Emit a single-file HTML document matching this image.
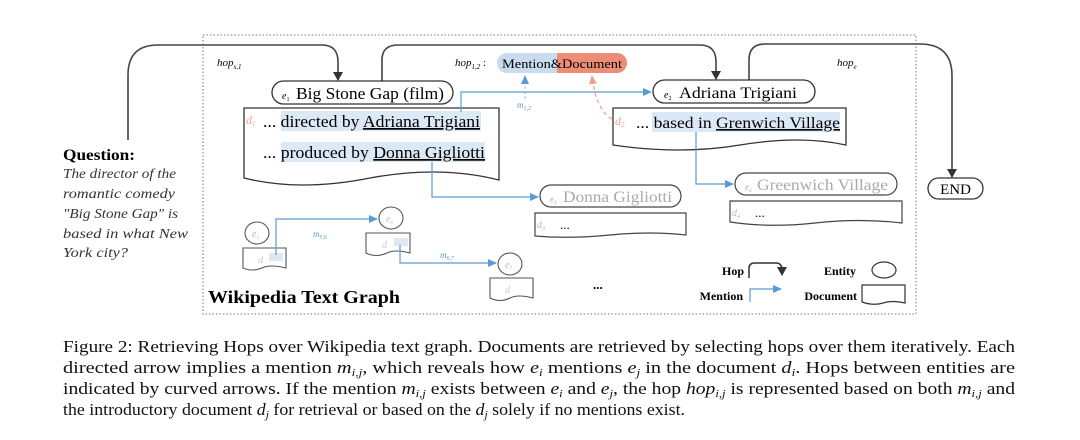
<!DOCTYPE html>
<html><head><meta charset="utf-8"><style>
html,body{margin:0;padding:0;background:#fff;}
svg{display:block;font-family:"Liberation Serif","Times New Roman",Times,serif;}
svg text{font-family:"Liberation Serif","Times New Roman",Times,serif;}
</style></head><body>
<svg width="1080" height="440" viewBox="0 0 1080 440" xmlns="http://www.w3.org/2000/svg" font-family="Liberation Serif, Times New Roman, serif">
<defs>
<marker id="ak" markerWidth="10" markerHeight="10" refX="8" refY="5" orient="auto" markerUnits="userSpaceOnUse"><path d="M0,0 L9,5 L0,10 Z" fill="#333"/></marker>
<marker id="ab" markerWidth="10" markerHeight="10" refX="8" refY="4" orient="auto" markerUnits="userSpaceOnUse"><path d="M0,0 L9,4 L0,8 Z" fill="#5b9bd5"/></marker>
<marker id="as" markerWidth="10" markerHeight="10" refX="8" refY="4" orient="auto" markerUnits="userSpaceOnUse"><path d="M0,0 L9,4 L0,8 Z" fill="#f0a08c"/></marker>
</defs>
<rect x="203" y="35" width="713" height="279" fill="none" stroke="#777" stroke-width="1" stroke-dasharray="1.5,2"/>

<path d="M128,140 L128,75 Q128,45 158,45 L322,45 Q338,45 338,62 L338,80" fill="none" stroke="#444" stroke-width="1.6" marker-end="url(#ak)"/>
<path d="M382,81 L382,60 Q382,45 398,45 L700,45 Q716,45 716,62 L716,79" fill="none" stroke="#444" stroke-width="1.6" marker-end="url(#ak)"/>
<path d="M749,80 L749,60 Q749,44 765,44 L920,44 Q952,44 952,76 L952,177" fill="none" stroke="#444" stroke-width="1.6" marker-end="url(#ak)"/>

<text x="217" y="66" font-size="11" font-style="italic">hop<tspan font-size="7" dy="3">s,1</tspan></text>
<text x="455" y="66" font-size="11" font-style="italic">hop<tspan font-size="7" dy="3">1,2</tspan><tspan dy="-3" font-style="normal"> :</tspan></text>
<text x="837" y="66" font-size="11" font-style="italic">hop<tspan font-size="7" dy="3">e</tspan></text>

<path d="M507,53 L557,53 L557,73 L507,73 A10,10 0 0 1 507,53 Z" fill="#c9dcef"/>
<path d="M557,53 L617,53 A10,10 0 0 1 617,73 L557,73 Z" fill="#ef8c75"/>
<text x="502" y="68" font-size="13" textLength="120" lengthAdjust="spacingAndGlyphs">Mention&amp;Document</text>

<path d="M525,99 L525,76" stroke="#a9c8e8" stroke-width="1.2" stroke-dasharray="3,2" fill="none" marker-end="url(#ab)"/>
<text x="517" y="108" font-size="9" font-style="italic" fill="#5b9bd5">m<tspan font-size="6" dy="2">1,2</tspan></text>
<path d="M612,119 Q596,110 592,76" stroke="#f0a08c" stroke-width="1.2" stroke-dasharray="4,3" fill="none" marker-end="url(#as)"/>

<rect x="272" y="81" width="181" height="23" rx="11.5" fill="#fff" stroke="#333" stroke-width="1.3"/>
<text x="282" y="99" font-size="10" font-style="italic">e<tspan font-size="6" dy="2" font-style="normal">1</tspan></text>
<text x="296" y="99" font-size="17" textLength="148" lengthAdjust="spacingAndGlyphs">Big Stone Gap (film)</text>
<path d="M244,108 L499,108 L499,180 Q440,165 370,178 Q300,192 244,178 Z" fill="#fff" stroke="#333" stroke-width="1.3"/>
<rect x="281" y="111" width="200" height="20" fill="#dbe8f5"/>
<rect x="281" y="142" width="204" height="20" fill="#dbe8f5"/>
<text x="246" y="124" font-size="12" font-style="italic" fill="#f2a08c">d<tspan font-size="7" dy="2">1</tspan></text>
<text x="263" y="127" font-size="17" textLength="217" lengthAdjust="spacingAndGlyphs">... directed by <tspan text-decoration="underline">Adriana Trigiani</tspan></text>
<text x="263" y="158" font-size="17" textLength="222" lengthAdjust="spacingAndGlyphs">... produced by <tspan text-decoration="underline">Donna Gigliotti</tspan></text>

<rect x="653" y="80" width="162" height="23" rx="11.5" fill="#fff" stroke="#333" stroke-width="1.3"/>
<text x="664" y="98" font-size="10" font-style="italic">e<tspan font-size="6" dy="2" font-style="normal">2</tspan></text>
<text x="679" y="98" font-size="16" textLength="118" lengthAdjust="spacingAndGlyphs">Adriana Trigiani</text>
<path d="M613,108 L846,108 L846,145 Q800,135 740,145 Q680,155 613,145 Z" fill="#fff" stroke="#333" stroke-width="1.3"/>
<rect x="652" y="112" width="188" height="20" fill="#dbe8f5"/>
<text x="615" y="125" font-size="12" font-style="italic" fill="#f2a08c">d<tspan font-size="7" dy="2">2</tspan></text>
<text x="636" y="128" font-size="16" textLength="204" lengthAdjust="spacingAndGlyphs">... based in <tspan text-decoration="underline">Grenwich Village</tspan></text>

<path d="M461,112 L461,92 L651,92" fill="none" stroke="#5b9bd5" stroke-width="1.2" marker-end="url(#ab)"/>
<path d="M432,162 L432,197 L538,197" fill="none" stroke="#5b9bd5" stroke-width="1.2" marker-end="url(#ab)"/>
<path d="M696,132 L696,184 L733,184" fill="none" stroke="#5b9bd5" stroke-width="1.2" marker-end="url(#ab)"/>

<rect x="540" y="185" width="141" height="22" rx="11" fill="#fff" stroke="#444" stroke-width="1.2"/>
<text x="550" y="202" font-size="9" font-style="italic" fill="#aaa">e<tspan font-size="5" dy="2">3</tspan></text>
<text x="563" y="202" font-size="16" fill="#aaa" textLength="109" lengthAdjust="spacingAndGlyphs">Donna Gigliotti</text>
<path d="M535,213 L686,213 L686,235 Q650,231 610,235 Q570,239 535,236 Z" fill="#fff" stroke="#444" stroke-width="1.2"/>
<text x="537" y="228" font-size="10" font-style="italic" fill="#bbb">d<tspan font-size="6" dy="2">3</tspan></text>
<text x="560" y="229" font-size="13">...</text>

<rect x="735" y="173" width="162" height="22" rx="11" fill="#fff" stroke="#444" stroke-width="1.2"/>
<text x="745" y="190" font-size="9" font-style="italic" fill="#aaa">e<tspan font-size="5" dy="2">4</tspan></text>
<text x="757" y="190" font-size="16" fill="#aaa" textLength="131" lengthAdjust="spacingAndGlyphs">Greenwich Village</text>
<path d="M730,201 L902,201 L902,223 Q860,218 815,223 Q770,228 730,222 Z" fill="#fff" stroke="#444" stroke-width="1.2"/>
<text x="732" y="216" font-size="10" font-style="italic" fill="#bbb">d<tspan font-size="6" dy="2">4</tspan></text>
<text x="755" y="217" font-size="13">...</text>

<rect x="928" y="178" width="55" height="21" rx="10.5" fill="#fff" stroke="#333" stroke-width="1.3"/>
<text x="955.5" y="194" font-size="15" text-anchor="middle">END</text>

<ellipse cx="257" cy="233" rx="12" ry="11" fill="#fff" stroke="#555" stroke-width="1.1"/>
<text x="252" y="237" font-size="10" font-style="italic" fill="#bbb">e<tspan font-size="5" dy="2">5</tspan></text>
<path d="M243,248 L286,248 L286,268 Q270,264 262,268 Q252,272 243,268 Z" fill="#fff" stroke="#555" stroke-width="1.1"/>
<rect x="269" y="253" width="14" height="8" fill="#dbe8f5"/>
<text x="258" y="263" font-size="10" font-style="italic" fill="#ccc">d</text>

<ellipse cx="391" cy="218" rx="12" ry="11" fill="#fff" stroke="#555" stroke-width="1.1"/>
<text x="386" y="222" font-size="10" font-style="italic" fill="#bbb">e<tspan font-size="5" dy="2">6</tspan></text>
<path d="M366,233 L410,233 L410,253 Q395,249 387,253 Q376,258 366,253 Z" fill="#fff" stroke="#555" stroke-width="1.1"/>
<rect x="394" y="238" width="14" height="8" fill="#dbe8f5"/>
<text x="382" y="248" font-size="10" font-style="italic" fill="#ccc">d</text>

<ellipse cx="510" cy="264" rx="12" ry="11" fill="#fff" stroke="#555" stroke-width="1.1"/>
<text x="505" y="268" font-size="10" font-style="italic" fill="#bbb">e<tspan font-size="5" dy="2">7</tspan></text>
<path d="M490,278 L533,278 L533,298 Q518,294 510,298 Q500,303 490,298 Z" fill="#fff" stroke="#555" stroke-width="1.1"/>
<text x="505" y="293" font-size="10" font-style="italic" fill="#ccc">d</text>

<path d="M276,255 L276,219 L377,219" fill="none" stroke="#5b9bd5" stroke-width="1.2" marker-end="url(#ab)"/>
<text x="313" y="237" font-size="9" font-style="italic" fill="#5b9bd5">m<tspan font-size="6" dy="2">5,6</tspan></text>
<path d="M400,245 L400,263 L496,263" fill="none" stroke="#5b9bd5" stroke-width="1.2" marker-end="url(#ab)"/>
<text x="440" y="258" font-size="9" font-style="italic" fill="#5b9bd5">m<tspan font-size="6" dy="2">6,7</tspan></text>

<text x="593" y="289" font-size="13" font-weight="bold">...</text>

<text x="208" y="303" font-size="18" font-weight="bold" textLength="192" lengthAdjust="spacingAndGlyphs">Wikipedia Text Graph</text>

<text x="744" y="275" font-size="12" font-weight="bold" text-anchor="end">Hop</text>
<path d="M749,278 L749,268 Q749,263 755,263 L776,263 Q782,263 782,270 L782,275" fill="none" stroke="#333" stroke-width="1.5" marker-end="url(#ak)"/>
<text x="856" y="275" font-size="12" font-weight="bold" text-anchor="end">Entity</text>
<ellipse cx="884" cy="270" rx="12" ry="8" fill="#fff" stroke="#333" stroke-width="1.2"/>
<text x="743" y="300" font-size="12" font-weight="bold" text-anchor="end">Mention</text>
<path d="M750,302 L750,289 L781,289" fill="none" stroke="#5b9bd5" stroke-width="1.2" marker-end="url(#ab)"/>
<text x="857" y="300" font-size="12" font-weight="bold" text-anchor="end">Document</text>
<path d="M862,285 L905,285 L905,303 Q892,300 883,303 Q873,306 862,302 Z" fill="#fff" stroke="#333" stroke-width="1.2"/>

<text x="63" y="160" font-size="16" font-weight="bold" textLength="72" lengthAdjust="spacingAndGlyphs">Question:</text>
<g font-size="14" font-style="italic" fill="#333">
<text x="63" y="178" textLength="113" lengthAdjust="spacingAndGlyphs">The director of the</text>
<text x="63" y="198" textLength="112" lengthAdjust="spacingAndGlyphs">romantic comedy</text>
<text x="63" y="218" textLength="115" lengthAdjust="spacingAndGlyphs">"Big Stone Gap" is</text>
<text x="63" y="238" textLength="125" lengthAdjust="spacingAndGlyphs">based in  what New</text>
<text x="63" y="257" textLength="65" lengthAdjust="spacingAndGlyphs">York city?</text>
</g>

<g font-size="17" fill="#111">
<text x="63" y="352" textLength="952" lengthAdjust="spacingAndGlyphs">Figure 2: Retrieving Hops over Wikipedia text graph. Documents are retrieved by selecting hops over them iteratively. Each</text>
<text x="63" y="373" textLength="952" lengthAdjust="spacingAndGlyphs">directed arrow implies a mention <tspan font-style="italic">m<tspan font-size="11" dy="3">i,j</tspan></tspan><tspan dy="-3">, which reveals how </tspan><tspan font-style="italic">e<tspan font-size="11" dy="3">i</tspan></tspan><tspan dy="-3"> mentions </tspan><tspan font-style="italic">e<tspan font-size="11" dy="3">j</tspan></tspan><tspan dy="-3"> in the document </tspan><tspan font-style="italic">d<tspan font-size="11" dy="3">i</tspan></tspan><tspan dy="-3">. Hops between entities are</tspan></text>
<text x="63" y="394" textLength="952" lengthAdjust="spacingAndGlyphs">indicated by curved arrows. If the mention <tspan font-style="italic">m<tspan font-size="11" dy="3">i,j</tspan></tspan><tspan dy="-3"> exists between </tspan><tspan font-style="italic">e<tspan font-size="11" dy="3">i</tspan></tspan><tspan dy="-3"> and </tspan><tspan font-style="italic">e<tspan font-size="11" dy="3">j</tspan></tspan><tspan dy="-3">, the hop </tspan><tspan font-style="italic">hop<tspan font-size="11" dy="3">i,j</tspan></tspan><tspan dy="-3"> is represented based on both </tspan><tspan font-style="italic">m<tspan font-size="11" dy="3">i,j</tspan></tspan><tspan dy="-3"> and</tspan></text>
<text x="63" y="415" textLength="622" lengthAdjust="spacingAndGlyphs">the introductory document <tspan font-style="italic">d<tspan font-size="11" dy="3">j</tspan></tspan><tspan dy="-3"> for retrieval or based on the </tspan><tspan font-style="italic">d<tspan font-size="11" dy="3">j</tspan></tspan><tspan dy="-3"> solely if no mentions exist.</tspan></text>
</g>
</svg>
</body></html>
